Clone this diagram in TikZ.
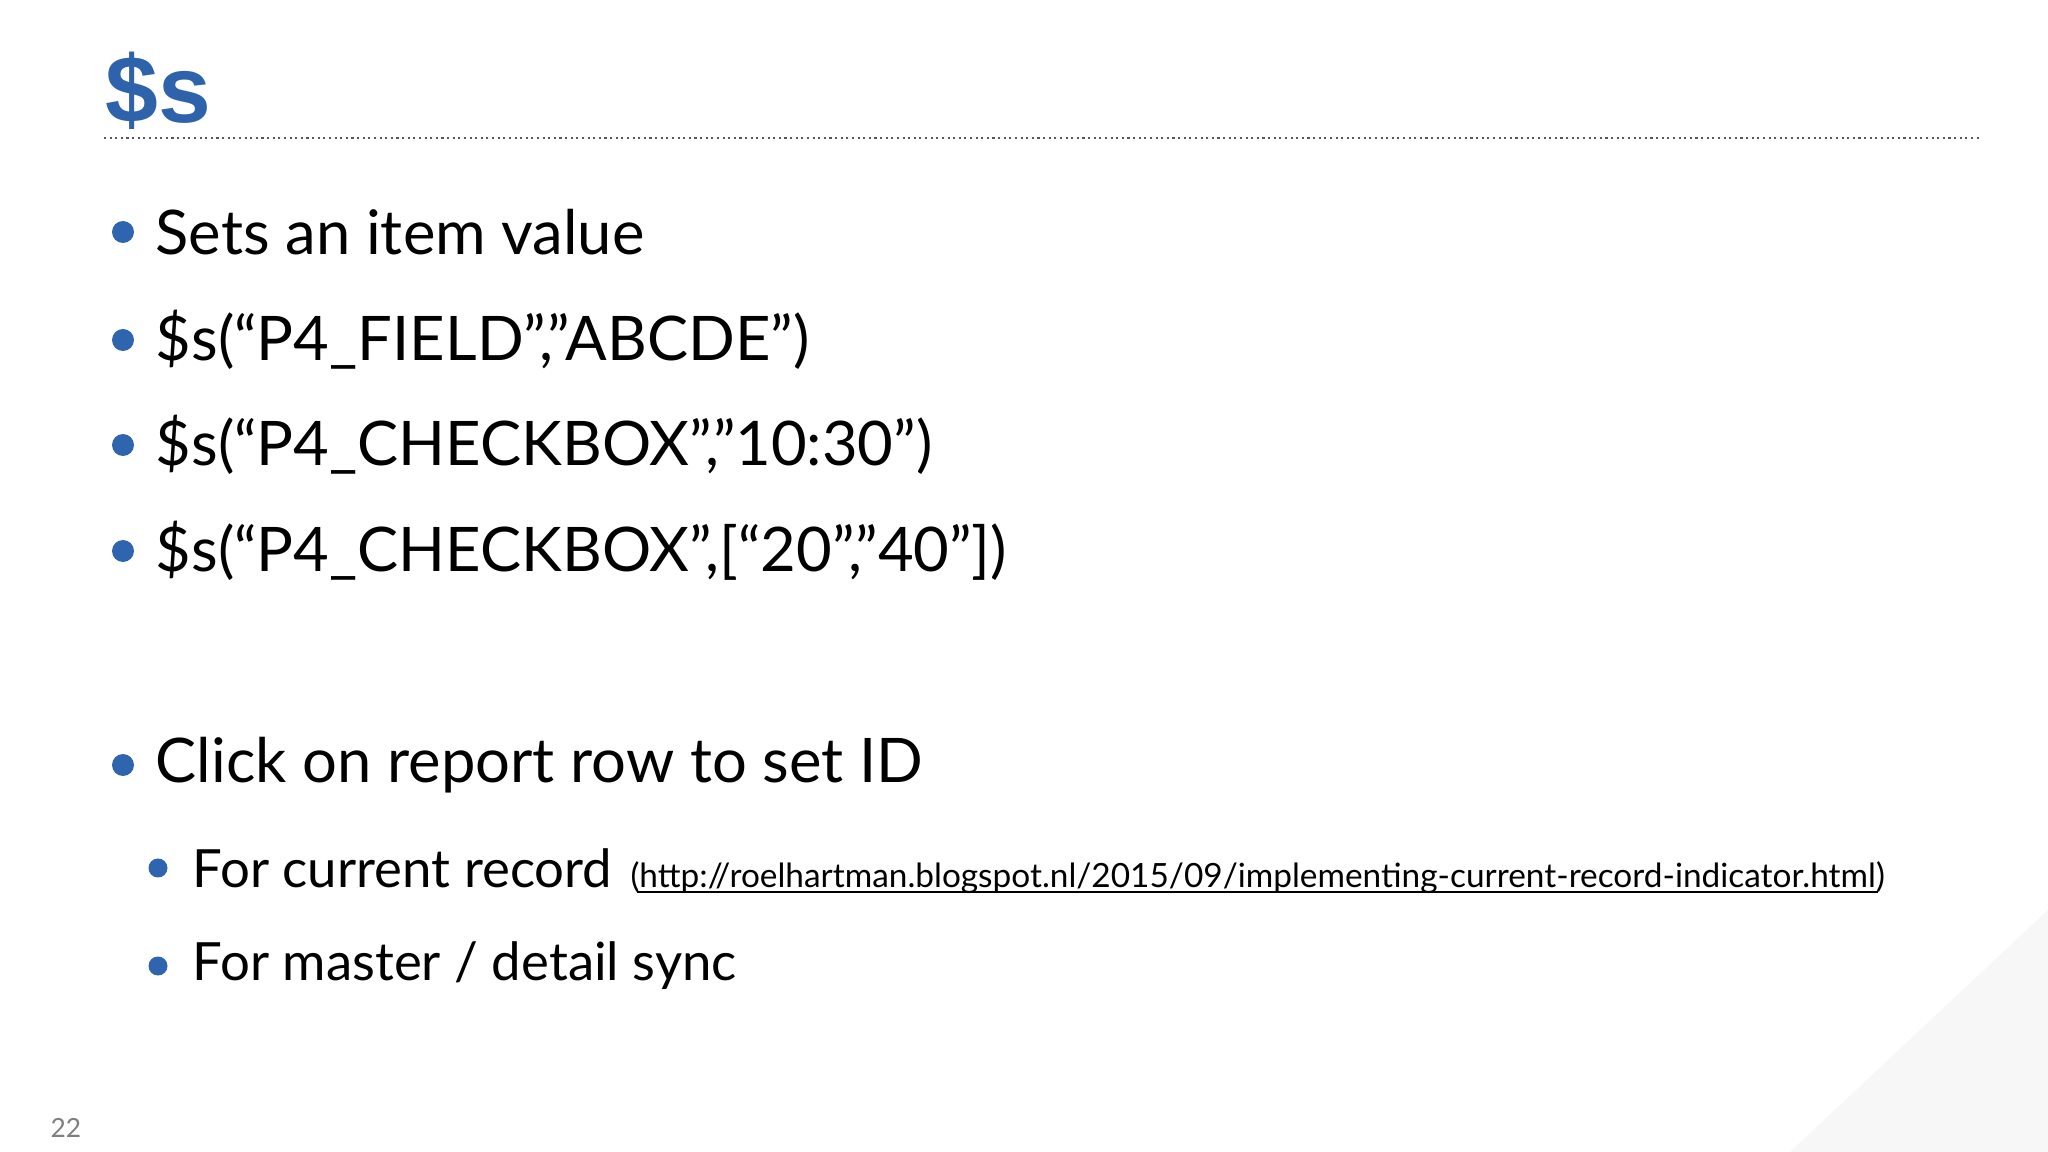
\documentclass[tikz,border=0pt]{standalone}
\usepackage{fontspec}
\setmainfont{Lato}
\newfontfamily\titlefont{Liberation Sans}
\definecolor{tblue}{HTML}{2E63AC}
\definecolor{dblue}{HTML}{2F64AE}
\begin{document}
\begin{tikzpicture}
\useasboundingbox[fill=white] (0,0) rectangle (20.48,-11.52);
\tikzset{
 bul/.style={circle,fill=dblue,inner sep=0pt,minimum size=0.22cm},
 sbul/.style={circle,fill=dblue,inner sep=0pt,minimum size=0.19cm},
 main/.style={anchor=west,inner sep=0pt,font=\fontsize{17.5}{20}\selectfont},
 sub/.style={anchor=west,inner sep=0pt,font=\fontsize{15}{18}\selectfont},
}
\fill[gray!6] (17.9,-11.52) -- (20.48,-9.1) -- (20.48,-11.52) -- cycle;
\node[anchor=west,inner sep=0pt,text=tblue,font=\titlefont\bfseries\fontsize{27}{30}\selectfont] (title) at (1.05,-0.91) {\$s};
\coordinate (l1) at (1.04,-1.38); \coordinate (l2) at (19.79,-1.38);
\draw[densely dotted,gray!70!black,line width=0.6pt] (l1) -- (l2);
\foreach \y/\t [count=\i] in {2.32/Sets an item value,3.40/{\$s(“P4\_FIELD”,”ABCDE”)},4.45/{\$s(“P4\_CHECKBOX","10:30")},5.51/{\$s(“P4\_CHECKBOX”,[“20","40"])},7.65/Click on report row to set ID}{
 \node[bul] (b\i) at (1.23,-\y) {};
 \node[main] (t\i) at (1.55,-\y) {\t};
}
\node[sbul] (s1) at (1.58,-8.68) {};
\node[sub] (u1) at (1.92,-8.68) {For current record};
\node[anchor=base west,inner sep=0pt,font=\fontsize{9.5}{11}\selectfont] (url) at ([xshift=0.17cm]u1.base east) {(http://roelhartman.blogspot.nl/2015/09/implementing-current-record-indicator.html)};
\draw[line width=0.5pt] ([xshift=0.07cm,yshift=-0.05cm]url.base west) -- ([xshift=-0.07cm,yshift=-0.05cm]url.base east);
\node[sbul] (s2) at (1.58,-9.66) {};
\node[sub] (u2) at (1.92,-9.66) {For master / detail sync};
\node[anchor=west,inner sep=0pt,text=gray,font=\fontsize{7.5}{9}\selectfont] (pg) at (0.5,-11.28) {22};
\end{tikzpicture}
\end{document}
